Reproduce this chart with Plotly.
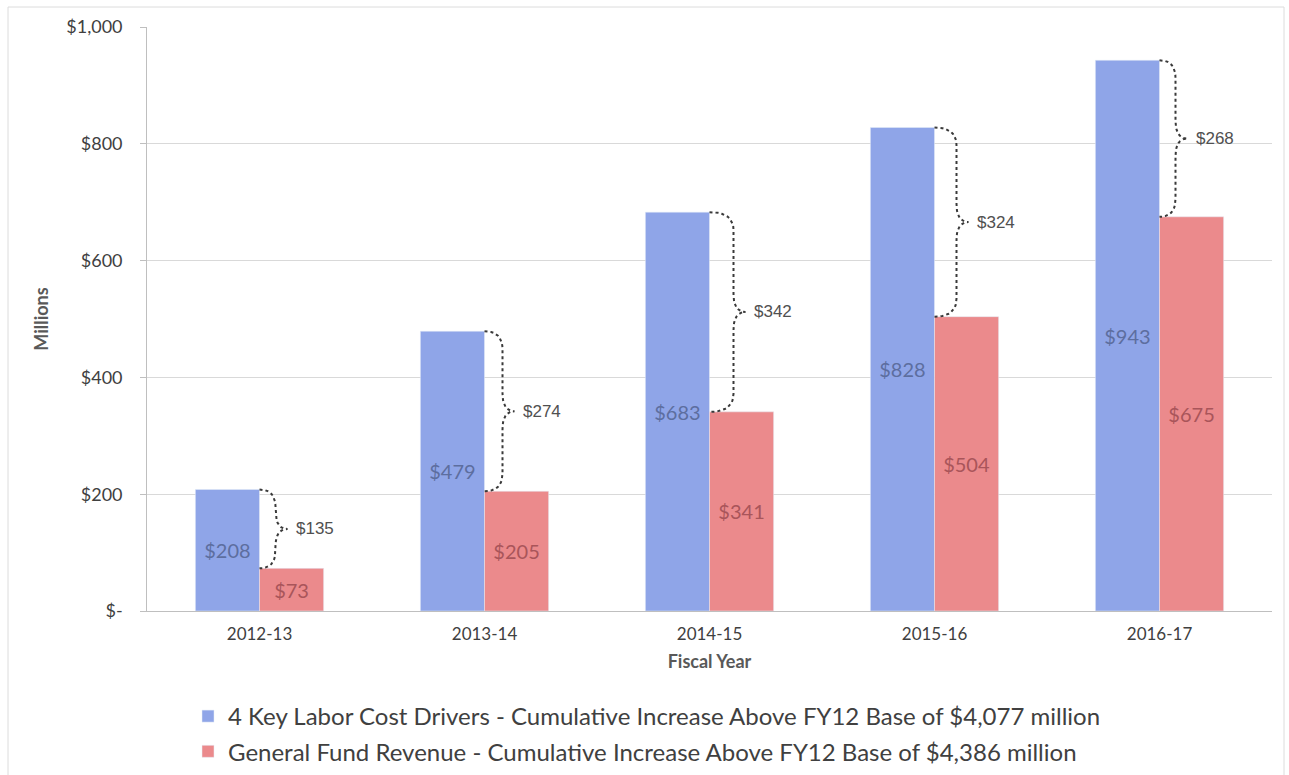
import plotly.graph_objects as go

# Fiscal years and cumulative increases above the FY12 base ($ millions)
years = ["2012-13", "2013-14", "2014-15", "2015-16", "2016-17"]
labor_costs = [208, 479, 683, 828, 943]
gf_revenue = [73, 205, 341, 504, 675]

y_tickvals = [0, 200, 400, 600, 800, 1000]
y_ticktext = ["$-", "$200", "$400", "$600", "$800", "$1,000"]

labor_name = "4 Key Labor Cost Drivers - Cumulative Increase Above FY12 Base of $4,077 million"
revenue_name = "General Fund Revenue - Cumulative Increase Above FY12 Base of $4,386 million"

BLUE = "#8fa5e8"
RED = "#eb8a8c"
AXIS_FONT = "Lato, 'Open Sans', sans-serif"
NBSP = "\u00a0"

# Plot geometry (px) used to shape the curly braces
L, R, T, B = 147, 17, 27, 164
W_PX, H_PX = 1289 - L - R, 775 - T - B
X_UNIT = W_PX / len(years)          # px per category
Y_UNIT = H_PX / 1000.0              # px per $1 million
BAR_W = 0.285                       # width of one bar, in category units

x = list(range(len(years)))

fig = go.Figure()
fig.add_trace(go.Bar(
    x=x, y=labor_costs, name=labor_name, marker_color=BLUE,
    width=BAR_W, offset=-BAR_W,
    text=[f"${v}" for v in labor_costs], textposition="inside",
    insidetextanchor="middle",
    textfont=dict(family=AXIS_FONT, size=20, color="#5d6e9f"),
    legendgroup="a", hoverinfo="skip",
))
fig.add_trace(go.Bar(
    x=x, y=gf_revenue, name=revenue_name, marker_color=RED,
    width=BAR_W, offset=0,
    text=[f"${v}" for v in gf_revenue], textposition="inside",
    insidetextanchor="middle",
    textfont=dict(family=AXIS_FONT, size=20, color="#a9555a"),
    legendgroup="b", hoverinfo="skip",
))


def brace(x0, y_top, y_bot, reach_px, tip_px, r_px=18):
    """Curly brace from (x0, y_top) down to (x0, y_bot), opening to the right."""
    dx = lambda px: px / X_UNIT
    dy = lambda px: px / Y_UNIT
    ym = (y_top + y_bot) / 2.0
    xv = x0 + dx(reach_px)
    xt = x0 + dx(tip_px)
    r = min(dy(r_px), (y_top - y_bot) / 4.0)
    pts = []

    def quad(p0, p1, p2, n=10):
        for i in range(n + 1):
            t = i / n
            pts.append((
                (1 - t) ** 2 * p0[0] + 2 * (1 - t) * t * p1[0] + t ** 2 * p2[0],
                (1 - t) ** 2 * p0[1] + 2 * (1 - t) * t * p1[1] + t ** 2 * p2[1],
            ))

    quad((x0, y_top), (xv, y_top), (xv, y_top - r))
    quad((xv, ym + r), (xv, ym), (xt, ym))
    quad((xt, ym), (xv, ym), (xv, ym - r))
    quad((xv, y_bot + r), (xv, y_bot), (x0, y_bot))
    return [p[0] for p in pts], [p[1] for p in pts], xt, ym


reach = [16, 18, 24, 22, 16]
for i, (hi, lo) in enumerate(zip(labor_costs, gf_revenue)):
    bx, by, xt, ym = brace(i, hi, lo, reach[i], reach[i] + 12)
    fig.add_trace(go.Scatter(
        x=bx, y=by, mode="lines",
        line=dict(color="#3a3a3a", width=2, dash="dot"),
        showlegend=False, hoverinfo="skip",
    ))
    fig.add_annotation(
        x=xt, y=ym, text=f"${hi - lo}", showarrow=False,
        xanchor="left", yanchor="middle", xshift=6,
        font=dict(family="Liberation Sans, Arial, sans-serif", size=17, color="#505050"),
    )

# Light frame around the whole chart area
fig.add_shape(
    type="rect", xref="paper", yref="paper",
    x0=(8 - L) / W_PX, x1=(1284 - L) / W_PX,
    y0=-(775 - T - H_PX + 10) / H_PX, y1=1 + (T - 7) / H_PX,
    line=dict(color="#dcdcdc", width=1), fillcolor="rgba(0,0,0,0)", layer="below",
)

fig.update_layout(
    width=1289, height=775,
    margin=dict(l=L, r=R, t=T, b=B, autoexpand=False),
    paper_bgcolor="white", plot_bgcolor="white",
    barmode="overlay",
    showlegend=True,
    legend=dict(
        orientation="v", x=(188 - L) / W_PX, y=-(694 - (T + H_PX)) / H_PX,
        xanchor="left", yanchor="top",
        font=dict(family=AXIS_FONT, size=24, color="#404040"),
        tracegroupgap=1, bgcolor="rgba(0,0,0,0)",
    ),
    font=dict(family=AXIS_FONT, color="#595959"),
)

fig.update_xaxes(
    range=[-0.5, len(years) - 0.5],
    tickvals=x, ticktext=years,
    tickfont=dict(family=AXIS_FONT, size=17, color="#404040"),
    showgrid=False, zeroline=False,
    showline=True, linecolor="#bfbfbf", linewidth=1,
    ticks="outside", ticklen=8, tickcolor="rgba(0,0,0,0)",
    title=dict(text="<b>Fiscal Year</b>", font=dict(family=AXIS_FONT, size=18, color="#595959"),
               standoff=11),
)
fig.update_yaxes(
    range=[0, 1000],
    tickvals=y_tickvals, ticktext=[t + NBSP * 3 for t in y_ticktext],
    tickfont=dict(family=AXIS_FONT, size=18, color="#404040"),
    showgrid=True, gridcolor="#d9d9d9", gridwidth=1,
    zeroline=False,
    showline=True, linecolor="#bfbfbf", linewidth=1,
    ticks="outside", ticklen=6, tickcolor="#bfbfbf",
    title=dict(text="<b>Millions</b>", font=dict(family=AXIS_FONT, size=18, color="#595959"),
               standoff=12),
)

fig.write_html("out.html")
